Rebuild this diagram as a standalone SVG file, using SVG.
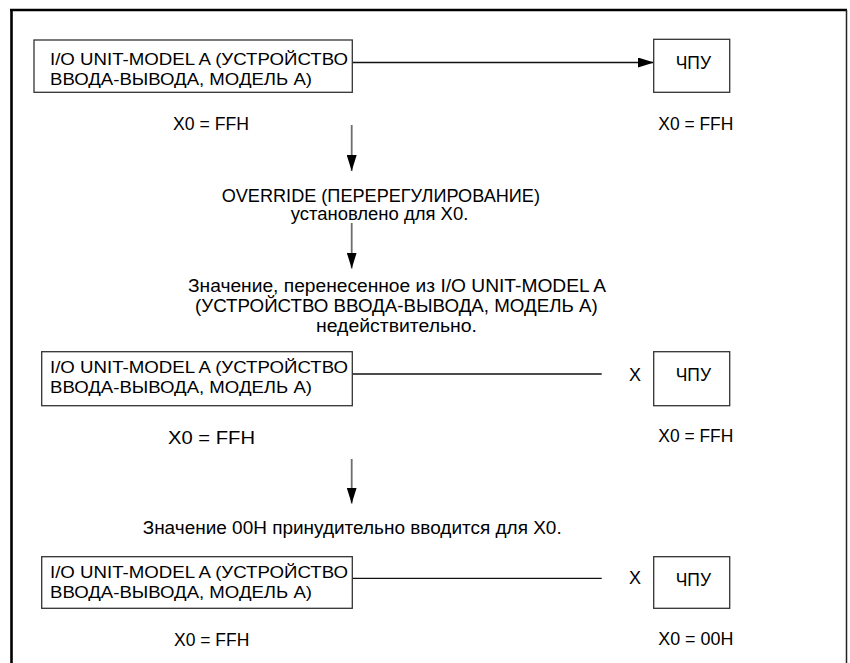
<svg xmlns="http://www.w3.org/2000/svg" width="850" height="663" viewBox="0 0 850 663">
<style>
  text { font-family: "Liberation Sans", Arial, "Noto Sans", sans-serif; fill: #000; }
  .bt { font-size: 16px; }
  .lb { font-size: 17.5px; }
  .cn { font-size: 18px; }
  .box { fill: #fff; stroke: #333; stroke-width: 1.3; }
  .hl { stroke: #111; stroke-width: 1.3; fill: none; }
  .vl { stroke: #6e6e6e; stroke-width: 1.8; fill: none; }
</style>
<defs>
  <marker id="ah" viewBox="0 0 16 10" refX="16" refY="5" markerWidth="16" markerHeight="10" markerUnits="userSpaceOnUse" orient="auto">
    <path d="M0,0 L16,5 L0,10 Z" fill="#000"/>
  </marker>
</defs>
<rect width="850" height="663" fill="#fff"/>
<g id="frame">
  <line x1="11.5" y1="10" x2="11.5" y2="663" stroke="#000" stroke-width="2.6"/>
  <line x1="10" y1="10" x2="847" y2="10" stroke="#000" stroke-width="2.6"/>
  <line x1="846.5" y1="10" x2="846.5" y2="663" stroke="#222" stroke-width="1.5"/>
</g>
<g id="connectors">
  <line class="hl" x1="352" y1="62.5" x2="654" y2="62.5" marker-end="url(#ah)"/>
  <line class="vl" x1="351.7" y1="125" x2="351.7" y2="171" marker-end="url(#ah)"/>
  <line class="vl" x1="351.7" y1="223" x2="351.7" y2="268.5" marker-end="url(#ah)"/>
  <line class="vl" x1="351.7" y1="459" x2="351.7" y2="503.5" marker-end="url(#ah)"/>
  <line class="hl" x1="352" y1="374" x2="601.7" y2="374"/>
  <line class="hl" x1="352" y1="578.3" x2="601.7" y2="578.3"/>
</g>
<g id="io1">
  <rect class="box" x="34" y="40" width="318.3" height="52.3"/>
  <text class="bt" x="50" y="65" textLength="298" lengthAdjust="spacingAndGlyphs">I/O UNIT-MODEL A (УСТРОЙСТВО</text>
  <text class="bt" x="50" y="85" textLength="262" lengthAdjust="spacingAndGlyphs">ВВОДА-ВЫВОДА, МОДЕЛЬ А)</text>
</g>
<g id="cnc1">
  <rect class="box" x="653.7" y="39.3" width="76" height="53"/>
  <text class="cn" x="675.7" y="69" textLength="35.3" lengthAdjust="spacingAndGlyphs">ЧПУ</text>
</g>
<g id="labels1">
  <text class="lb" x="173" y="130" textLength="76" lengthAdjust="spacingAndGlyphs">X0 = FFH</text>
  <text class="lb" x="658.3" y="129.5" textLength="75" lengthAdjust="spacingAndGlyphs">X0 = FFH</text>
</g>
<g id="step1">
  <text class="lb" x="221.7" y="201.7" textLength="318.3" lengthAdjust="spacingAndGlyphs">OVERRIDE (ПЕРЕРЕГУЛИРОВАНИЕ)</text>
  <text class="lb" x="290.7" y="220" textLength="177.6" lengthAdjust="spacingAndGlyphs">установлено для X0.</text>
</g>
<g id="step2">
  <text class="lb" x="188" y="291.7" textLength="418" lengthAdjust="spacingAndGlyphs">Значение, перенесенное из I/O UNIT-MODEL A</text>
  <text class="lb" x="195" y="312" textLength="402.7" lengthAdjust="spacingAndGlyphs">(УСТРОЙСТВО ВВОДА-ВЫВОДА, МОДЕЛЬ А)</text>
  <text class="lb" x="316" y="332.3" textLength="161" lengthAdjust="spacingAndGlyphs">недействительно.</text>
</g>
<g id="io2">
  <rect class="box" x="41.7" y="351.7" width="310.6" height="54"/>
  <text class="bt" x="50" y="372.7" textLength="298" lengthAdjust="spacingAndGlyphs">I/O UNIT-MODEL A (УСТРОЙСТВО</text>
  <text class="bt" x="50" y="393.3" textLength="262" lengthAdjust="spacingAndGlyphs">ВВОДА-ВЫВОДА, МОДЕЛЬ А)</text>
</g>
<g id="cnc2">
  <rect class="box" x="653.7" y="351.7" width="76" height="54"/>
  <text class="cn" x="675.7" y="381" textLength="35.3" lengthAdjust="spacingAndGlyphs">ЧПУ</text>
</g>
<g id="labels2">
  <text class="lb" x="629" y="381" textLength="12" lengthAdjust="spacingAndGlyphs">X</text>
  <text class="lb" x="168" y="444" textLength="87" lengthAdjust="spacingAndGlyphs" style="font-size:18px">X0 = FFH</text>
  <text class="lb" x="658.3" y="441.7" textLength="75" lengthAdjust="spacingAndGlyphs">X0 = FFH</text>
</g>
<g id="step3">
  <text class="lb" x="142.7" y="534" textLength="419" lengthAdjust="spacingAndGlyphs">Значение 00H принудительно вводится для X0.</text>
</g>
<g id="io3">
  <rect class="box" x="41.7" y="556.7" width="310.6" height="51.6"/>
  <text class="bt" x="50" y="578.3" textLength="298" lengthAdjust="spacingAndGlyphs">I/O UNIT-MODEL A (УСТРОЙСТВО</text>
  <text class="bt" x="50" y="598.3" textLength="262" lengthAdjust="spacingAndGlyphs">ВВОДА-ВЫВОДА, МОДЕЛЬ А)</text>
</g>
<g id="cnc3">
  <rect class="box" x="653.7" y="556.7" width="76" height="51.6"/>
  <text class="cn" x="675.7" y="586" textLength="35.3" lengthAdjust="spacingAndGlyphs">ЧПУ</text>
</g>
<g id="labels3">
  <text class="lb" x="629" y="584.3" textLength="12" lengthAdjust="spacingAndGlyphs">X</text>
  <text class="lb" x="174" y="646" textLength="75.3" lengthAdjust="spacingAndGlyphs">X0 = FFH</text>
  <text class="lb" x="658.3" y="645" textLength="75" lengthAdjust="spacingAndGlyphs">X0 = 00H</text>
</g>
</svg>
